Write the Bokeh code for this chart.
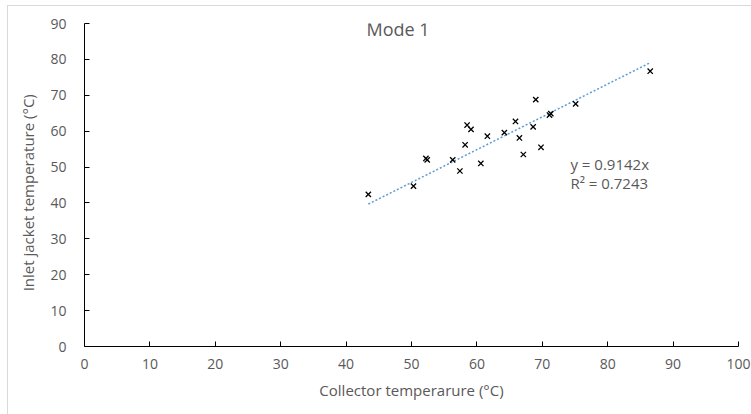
from bokeh.plotting import figure
from bokeh.models import Range1d, Label, ColumnDataSource
from bokeh.embed import file_html
from bokeh.resources import INLINE

# Data
collector_temp = [43.4, 50.3, 52.2, 52.4, 56.3, 57.4, 58.2, 58.5, 59.1, 60.6,
                  61.6, 64.2, 65.9, 66.5, 67.1, 68.6, 69.0, 69.8, 71.1, 71.3,
                  75.1, 86.5]
inlet_temp = [42.4, 44.7, 52.4, 52.0, 52.0, 48.9, 56.2, 61.7, 60.5, 51.0,
              58.6, 59.6, 62.7, 58.1, 53.5, 61.2, 68.8, 55.5, 64.5, 64.9,
              67.6, 76.7]
slope = 0.9142
r_squared = 0.7243
x_ticks = [0, 10, 20, 30, 40, 50, 60, 70, 80, 90, 100]
y_ticks = [0, 10, 20, 30, 40, 50, 60, 70, 80, 90]

FONT = "Open Sans"
GREY = "#595959"
BORDER = "#d9d9d9"

p = figure(width=751, height=414, output_backend="svg", toolbar_location=None,
           x_range=Range1d(0, 100), y_range=Range1d(0, 90),
           min_border_left=84, min_border_right=13, min_border_top=23,
           min_border_bottom=68)
p.outline_line_color = None
p.xgrid.grid_line_color = None
p.ygrid.grid_line_color = None
p.background_fill_color = "white"
p.border_fill_color = None
# faint outer chart-area border (left and top edges visible in the window)
p.styles = {
    "background": (f"linear-gradient({BORDER},{BORDER}) 7px 5px / 1px 100% no-repeat, "
                   f"linear-gradient({BORDER},{BORDER}) 7px 5px / 100% 1px no-repeat, "
                   "white"),
}

for ax in (p.xaxis[0], p.yaxis[0]):
    ax.axis_line_color = "black"
    ax.axis_line_width = 1
    ax.major_tick_line_color = "black"
    ax.major_tick_in = 5
    ax.major_tick_out = 0
    ax.minor_tick_line_color = None
    ax.major_label_text_font = FONT
    ax.major_label_text_font_size = "14px"
    ax.major_label_text_color = GREY
    ax.axis_label_text_font = FONT
    ax.axis_label_text_font_size = "15px"
    ax.axis_label_text_font_style = "normal"
    ax.axis_label_text_color = GREY

p.xaxis.ticker = x_ticks
p.yaxis.ticker = y_ticks
p.xaxis.major_label_standoff = 12
p.yaxis.major_label_standoff = 18
p.xaxis.axis_label = "Collector temperarure (°C)"
p.xaxis.axis_label_standoff = 8
# padded with no-break spaces so the visible text sits slightly lower, as in the reference
p.yaxis.axis_label = "Inlet jacket temperature (°C)" + "\u00a0" * 4
p.yaxis.axis_label_standoff = 9

# Trendline (linear through origin)
x0, x1 = min(collector_temp), max(collector_temp)
trend = ColumnDataSource(dict(x=[x0, x1], y=[slope * x0, slope * x1]))
p.line("x", "y", source=trend, line_color="#5b9bd5", line_width=1.5,
       line_dash="2 2")

p.scatter(collector_temp, inlet_temp, marker="x", size=7.5, line_color="black",
          line_width=1.3)

p.add_layout(Label(x=47.95, y=88.6, text="Mode 1", text_font=FONT,
                   text_font_size="18px", text_color=GREY,
                   text_align="center", text_baseline="middle"))
p.add_layout(Label(x=74.3, y=50.9, text=f"y = {slope}x", text_font=FONT,
                   text_font_size="15px", text_color=GREY,
                   text_align="left", text_baseline="middle"))
p.add_layout(Label(x=74.3, y=45.6, text=f"R² = {r_squared}", text_font=FONT,
                   text_font_size="15px", text_color=GREY,
                   text_align="left", text_baseline="middle"))

open("out.html", "w").write(file_html(p, INLINE))
